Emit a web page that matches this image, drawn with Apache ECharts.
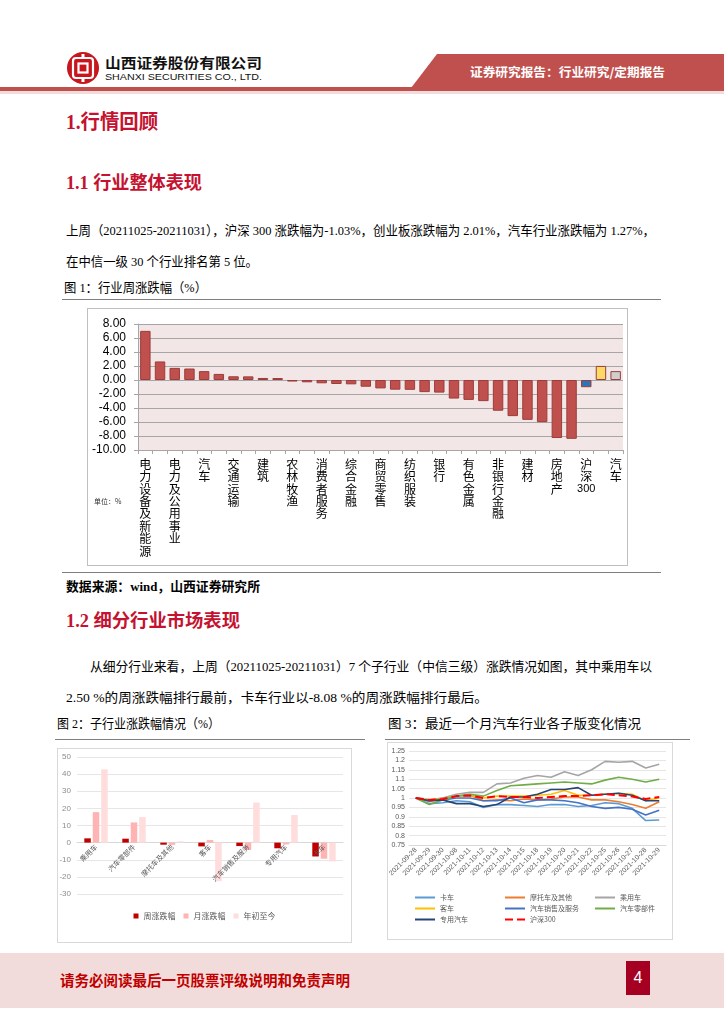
<!DOCTYPE html>
<html><head><meta charset="utf-8">
<script src="https://cdn.jsdelivr.net/npm/echarts@6/dist/echarts.min.js"></script>
<style>
body{margin:0;width:724px;height:1024px;position:relative;background:#fff;overflow:hidden;font-family:"Liberation Serif","Noto Sans CJK SC",serif;}
.abs{position:absolute;white-space:nowrap;line-height:1;}
.fit{transform-origin:0 50%;display:inline-block;}
.hd{color:#C41230;font-weight:bold;}
.cap{font-size:13px;color:#000;}
.rule{position:absolute;height:0;border-top:1.5px solid #7F7F7F;}
.frame{position:absolute;border:1px solid #D9D9D9;box-sizing:border-box;}
</style></head><body>

<!-- header -->
<svg class="abs" style="left:66px;top:51px" width="34" height="34" viewBox="0 0 34 34">
  <circle cx="17" cy="17" r="16" fill="#C8161D"/>
  <rect x="7" y="7" width="20" height="20" rx="3" fill="none" stroke="#fff" stroke-width="2.2"/>
  <rect x="12.5" y="12.5" width="9" height="9" fill="none" stroke="#fff" stroke-width="2.2"/>
  <rect x="15.5" y="3" width="3" height="4" fill="#fff"/>
  <rect x="15.5" y="27" width="3" height="4" fill="#fff"/>
</svg>
<div class="abs" style="left:105px;top:55px;font-family:'Noto Sans CJK SC';font-weight:bold;font-size:14px;color:#111"><span class="fit" data-w="157">山西证券股份有限公司</span></div>
<div class="abs" style="left:105px;top:72px;font-family:'Liberation Sans';font-size:9.5px;color:#111"><span class="fit" data-w="157">SHANXI SECURITIES CO., LTD.</span></div>
<svg class="abs" style="left:0;top:0" width="724" height="96">
  <polygon points="437,54 724,54 724,88 411,88" fill="#C0504D"/>
  <rect x="0" y="87" width="724" height="4" fill="#C0504D"/>
  <rect x="0" y="91" width="724" height="3" fill="#F2DCDB"/>
</svg>
<div class="abs" style="left:470px;top:66px;font-family:'Noto Sans CJK SC';font-weight:bold;font-size:12.5px;color:#fff"><span class="fit" data-w="195">证券研究报告：行业研究/定期报告</span></div>

<!-- section 1 -->
<div class="abs hd" style="left:66px;top:112px;font-size:20px"><span class="fit" data-w="92">1.行情回顾</span></div>
<div class="abs hd" style="left:66px;top:174px;font-size:18px"><span class="fit" data-w="136">1.1 行业整体表现</span></div>
<div class="abs" style="left:66px;top:224px;font-size:13px"><span class="fit" data-w="589">上周（20211025-20211031），沪深 300 涨跌幅为-1.03%，创业板涨跌幅为 2.01%，汽车行业涨跌幅为 1.27%，</span></div>
<div class="abs" style="left:66px;top:255px;font-size:13px"><span class="fit" data-w="192">在中信一级 30 个行业排名第 5 位。</span></div>
<div class="abs cap" style="left:64px;top:281px"><span class="fit" data-w="143">图 1：行业周涨跌幅（%）</span></div>
<div class="rule" style="left:62px;top:299px;width:599px"></div>
<div id="c1" class="frame" style="left:87px;top:308px;width:541px;height:258px;border-color:#BFBFBF"></div>
<div class="rule" style="left:62px;top:572px;width:599px"></div>
<div class="abs" style="left:66px;top:580px;font-size:13px;font-weight:bold"><span class="fit" data-w="194">数据来源：wind，山西证券研究所</span></div>

<!-- section 1.2 -->
<div class="abs hd" style="left:66px;top:612px;font-size:18px"><span class="fit" data-w="174">1.2 细分行业市场表现</span></div>
<div class="abs" style="left:90px;top:660px;font-size:13px"><span class="fit" data-w="562">从细分行业来看，上周（20211025-20211031）7 个子行业（中信三级）涨跌情况如图，其中乘用车以</span></div>
<div class="abs" style="left:66px;top:691px;font-size:13px"><span class="fit" data-w="422">2.50 %的周涨跌幅排行最前，卡车行业以-8.08 %的周涨跌幅排行最后。</span></div>

<div class="abs cap" style="left:57px;top:717px"><span class="fit" data-w="163">图 2：子行业涨跌幅情况（%）</span></div>
<div class="rule" style="left:55px;top:739px;width:310px"></div>
<div id="c2" class="frame" style="left:57px;top:748px;width:295px;height:195px"></div>

<div class="abs cap" style="left:388px;top:717px"><span class="fit" data-w="253">图 3：最近一个月汽车行业各子版变化情况</span></div>
<div class="rule" style="left:385px;top:739px;width:305px"></div>
<div id="c3" class="frame" style="left:387px;top:742px;width:286px;height:198px"></div>

<!-- footer -->
<div class="abs" style="left:0;top:953px;width:724px;height:55px;background:#F2DCDB"></div>
<div class="abs" style="left:60px;top:973px;font-family:'Noto Sans CJK SC';font-weight:bold;font-size:14.5px;color:#C00000"><span class="fit" data-w="290">请务必阅读最后一页股票评级说明和免责声明</span></div>
<div class="abs" style="left:626px;top:961px;width:24px;height:34px;background:#A50021;color:#fff;font-family:'Liberation Sans';font-size:16px;text-align:center;line-height:34px">4</div>

<script>
// ---------- data ----------
const fig1Categories = ['电力设备及新能源','电子','电力及公用事业','计算机','汽车','家电','交通运输','基础化工','建筑','机械','农林牧渔','医药','消费者服务','轻工制造','综合金融','食品饮料','商贸零售','国防军工','纺织服装','传媒','银行','通信','有色金属','综合','非银行金融','石油石化','建材','钢铁','房地产','煤炭','沪深300','创业板指','汽车'];
const fig1Values = [7.02,2.65,1.73,1.64,1.27,0.87,0.53,0.52,0.29,0.28,-0.22,-0.33,-0.47,-0.57,-0.62,-0.96,-1.2,-1.38,-1.4,-1.73,-1.8,-2.65,-2.84,-3.02,-4.39,-5.16,-5.69,-6.02,-8.29,-8.4,-1.03,2.01,1.27];
const fig1YTicks = {min:-10, max:8, interval:2};

const fig2Categories = ['乘用车','汽车零部件','摩托车及其他','客车','汽车销售及服务','专用汽车','卡车'];
const fig2Week = [2.5,2.3,-1.2,-2.2,-2.0,-3.3,-8.08];
const fig2Month = [17.8,11.8,-1.3,1.5,-4.3,-1.0,-9.4];
const fig2YTD = [42.8,14.9,0.8,-22.5,23.4,16.1,-11.0];
const fig2SeriesNames = ['周涨跌幅','月涨跌幅','年初至今'];
const fig2YTicks = {min:-30, max:50, interval:10};

const fig3Dates = ['2021-09-28','2021-09-29','2021-09-30','2021-10-08','2021-10-11','2021-10-12','2021-10-13','2021-10-14','2021-10-15','2021-10-18','2021-10-19','2021-10-20','2021-10-21','2021-10-22','2021-10-25','2021-10-26','2021-10-27','2021-10-28','2021-10-29'];
const truck = [1.0,0.97,0.975,0.985,0.98,0.95,0.965,0.965,0.96,0.955,0.965,0.965,0.955,0.96,0.975,0.97,0.945,0.88,0.883];
const motorcycle = [1.0,0.99,1.0,1.01,1.015,0.985,0.99,0.985,0.995,0.99,0.995,1.005,1.005,0.99,0.99,0.98,0.965,0.945,0.98];
const passengerCar = [1.0,0.98,1.0,1.02,1.03,1.03,1.075,1.08,1.105,1.12,1.11,1.14,1.12,1.15,1.195,1.19,1.195,1.16,1.18];
const bus = [1.0,0.99,0.995,1.01,1.015,1.0,1.01,1.01,1.01,1.015,1.02,1.04,1.015,1.015,1.02,1.025,1.02,0.985,1.0];
const autoSales = [1.0,0.985,0.99,1.0,1.0,0.985,0.985,1.0,0.975,0.99,0.99,0.985,0.975,0.955,0.945,0.95,0.94,0.91,0.935];
const autoParts = [1.0,0.965,0.99,1.01,1.02,1.01,1.04,1.065,1.07,1.075,1.08,1.085,1.08,1.075,1.095,1.11,1.10,1.085,1.10];
const specialVehicle = [1.0,0.985,0.99,0.97,0.97,0.955,0.965,1.005,1.005,1.02,1.045,1.045,1.055,1.015,1.02,1.025,1.015,0.985,0.985];
const hs300 = [1.0,0.99,0.995,1.01,1.013,1.0,1.01,1.005,1.005,1.0,1.005,1.01,1.01,1.015,1.02,1.015,1.008,0.995,1.005];
const fig3YTicks = {min:0.75, max:1.25, interval:0.05};

// ---------- text fitting ----------
document.querySelectorAll('.fit').forEach(el => {
  const w = +el.dataset.w; const cur = el.getBoundingClientRect().width;
  if (cur > 0) el.style.transform = 'scaleX(' + (w / cur) + ')';
});

// ---------- chart 1 ----------
const c1 = echarts.init(document.getElementById('c1'));
c1.setOption({
  animation: false,
  grid: {left: 50, right: 4, top: 15, bottom: 115, show: true, backgroundColor: '#F2E6E6', borderWidth: 0, outerBoundsMode: 'none'},
  xAxis: [
    {type: 'category', data: fig1Categories, position: 'bottom', axisLine: {show: false}, axisTick: {show: false},
     axisLabel: {interval: 1, margin: 8, fontSize: 12, lineHeight: 12.4, color: '#000', fontFamily: 'Noto Sans CJK SC',
       formatter: v => v.replace('300', '\u0001').split('').join('\n').replace('\u0001', '{r|300}'),
       rich: {r: {fontSize: 11, fontFamily: 'Liberation Sans', lineHeight: 12.4}}}},
    {type: 'category', data: fig1Categories, position: 'bottom', axisLine: {onZero: true, lineStyle: {color: '#A6A6A6', width: 1}},
     axisTick: {show: true, interval: 0, length: 4, lineStyle: {color: '#A6A6A6'}}, axisLabel: {show: false}}
  ],
  yAxis: {type: 'value', min: fig1YTicks.min, max: fig1YTicks.max, interval: fig1YTicks.interval,
    axisLine: {show: true, lineStyle: {color: '#A6A6A6'}}, axisTick: {show: true, length: 4, lineStyle: {color: '#A6A6A6'}},
    splitLine: {lineStyle: {color: '#A6A6A6'}},
    axisLabel: {formatter: v => v.toFixed(2), fontSize: 12, color: '#000', margin: 12, fontFamily: 'Liberation Sans'}},
  series: [{type: 'bar', data: fig1Values, barWidth: '71%', xAxisIndex: 0,
    itemStyle: {borderColor: '#9B3D3A', borderWidth: 1,
      color: p => p.dataIndex === 30 ? '#2E75B6' : p.dataIndex === 31 ? '#FFD966' : p.dataIndex === 32 ? '#D0CECE' : '#C0504D'}}],
  graphic: [{type: 'text', left: 6, top: 189, style: {text: '单位：%', fontSize: 7, fill: '#333', fontFamily: 'Noto Sans CJK SC'}}]
});

// ---------- chart 2 ----------
const c2El = document.getElementById('c2');
const c2 = echarts.init(c2El);
const fig2Colors = ['#C00000', '#FFB3B3', '#FFDDDD'];
const g2 = {left: 19, right: 8, top: 8, bottom: 48};
const plotH2 = c2El.clientHeight - g2.top - g2.bottom;
const zeroFromBottom = plotH2 * (0 - fig2YTicks.min) / (fig2YTicks.max - fig2YTicks.min);
c2.setOption({
  animation: false,
  grid: Object.assign({outerBoundsMode: 'none'}, g2),
  legend: {left: 'center', top: 158, itemWidth: 5, itemHeight: 5, itemGap: 8, icon: 'rect',
    textStyle: {fontSize: 8, color: '#595959', fontFamily: 'Noto Sans CJK SC'}},
  xAxis: [
    {type: 'category', data: fig2Categories, position: 'bottom', z: 10, axisLine: {show: false, onZero: false}, axisTick: {show: false},
     axisLabel: {interval: 0, rotate: 45, fontSize: 7, color: '#595959', margin: 3 - zeroFromBottom, fontFamily: 'Noto Sans CJK SC'}},
    {type: 'category', data: fig2Categories, position: 'bottom', axisLine: {onZero: true, lineStyle: {color: '#D9D9D9'}},
     axisTick: {show: false}, axisLabel: {show: false}}
  ],
  yAxis: {type: 'value', min: fig2YTicks.min, max: fig2YTicks.max, interval: fig2YTicks.interval, axisLine: {show: false}, axisTick: {show: false},
    splitLine: {lineStyle: {color: '#E6E6E6'}},
    axisLabel: {fontSize: 8, color: '#8C8C8C', margin: 6, fontFamily: 'Liberation Sans'}},
  series: [fig2Week, fig2Month, fig2YTD].map((d, i) => ({
    type: 'bar', name: fig2SeriesNames[i], data: d, barWidth: 6.5, barGap: '30%', z: 2, itemStyle: {color: fig2Colors[i]}
  }))
});

// ---------- chart 3 ----------
const c3 = echarts.init(document.getElementById('c3'));
const fig3Series = [
  ['卡车', truck, '#5B9BD5', 'solid'],
  ['摩托车及其他', motorcycle, '#ED7D31', 'solid'],
  ['乘用车', passengerCar, '#A5A5A5', 'solid'],
  ['客车', bus, '#FFC000', 'solid'],
  ['汽车销售及服务', autoSales, '#4472C4', 'solid'],
  ['汽车零部件', autoParts, '#70AD47', 'solid'],
  ['专用汽车', specialVehicle, '#264478', 'solid'],
  ['沪深300', hs300, '#FF0000', 'dashed']
];
const legendBase = {orient: 'vertical', itemWidth: 20, itemHeight: 6, itemGap: 4,
  itemStyle: {opacity: 0},
  textStyle: {fontSize: 7, color: '#595959', fontFamily: 'Noto Sans CJK SC'}};
c3.setOption({
  animation: false,
  grid: {left: 21, right: 6, top: 8, bottom: 94, outerBoundsMode: 'none'},
  legend: [
    Object.assign({left: 21, top: 146, data: ['卡车', '客车', '专用汽车']}, legendBase),
    Object.assign({left: 111, top: 146, data: ['摩托车及其他', '汽车销售及服务', '沪深300']}, legendBase),
    Object.assign({left: 201, top: 146, data: ['乘用车', '汽车零部件']}, legendBase)
  ],
  xAxis: {type: 'category', data: fig3Dates, boundaryGap: true, axisLine: {lineStyle: {color: '#D9D9D9'}}, axisTick: {show: false},
    axisLabel: {interval: 0, rotate: 45, fontSize: 7, color: '#595959', margin: 4, fontFamily: 'Liberation Sans'}},
  yAxis: {type: 'value', min: fig3YTicks.min, max: fig3YTicks.max, interval: fig3YTicks.interval,
    axisLine: {show: false}, axisTick: {show: false}, splitLine: {lineStyle: {color: '#E6E6E6'}},
    axisLabel: {fontSize: 7, color: '#595959', margin: 4, fontFamily: 'Liberation Sans', formatter: v => String(+v.toFixed(2))}},
  series: fig3Series.map(s => ({type: 'line', name: s[0], data: s[1], symbol: 'none', showSymbol: false, z: s[0] === '沪深300' ? 5 : 2,
    lineStyle: {color: s[2], width: s[3] === 'dashed' ? 2 : 1.6, type: s[3]}, itemStyle: {color: s[2]}}))
});
</script>
</body></html>
